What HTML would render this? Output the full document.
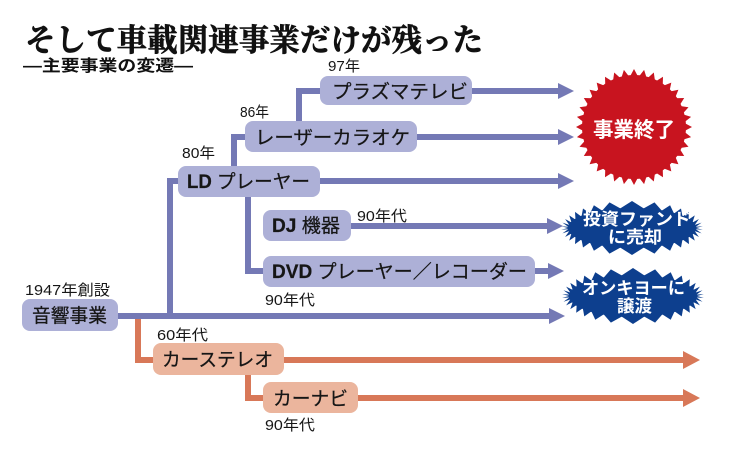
<!DOCTYPE html>
<html><head><meta charset="utf-8"><style>
html,body{margin:0;padding:0;background:#fff;}
svg{display:block;}
.s{font-family:"Liberation Sans","Noto Sans CJK JP",sans-serif;}
</style></head><body>
<svg width="731" height="450" viewBox="0 0 731 450" xmlns="http://www.w3.org/2000/svg">
<rect width="731" height="450" fill="#fff"/>
<!-- Title -->
<text x="25" y="51" font-size="31" font-weight="bold" textLength="458" lengthAdjust="spacingAndGlyphs" font-family="'Liberation Serif','Noto Serif CJK SC',serif" fill="#111" stroke="#111" stroke-width="0.7">そして車載関連事業だけが残った</text>
<text class="s" x="23" y="71" font-size="16" font-weight="bold" textLength="170" lengthAdjust="spacingAndGlyphs" fill="#111">―主要事業の変遷―</text>

<!-- starbursts fallback -->
<circle cx="634" cy="127" r="52" fill="#c8141f"/>
<ellipse cx="632" cy="228" rx="64" ry="20" fill="#0d3f8e"/>
<ellipse cx="633" cy="296" rx="64" ry="21" fill="#0d3f8e"/>
<polygon id="red" fill="#c8141f" points=""/>
<polygon id="b1" fill="#0d3f8e" points=""/>
<polygon id="b2" fill="#0d3f8e" points=""/>

<!-- blue lines -->
<g stroke="#7479b5" stroke-width="6" fill="none">
  <path d="M118 316 H550"/>
  <path d="M170 319 V181 H182"/>
  <path d="M320 181 H560"/>
  <path d="M234 168 V137 H248"/>
  <path d="M417 137 H560"/>
  <path d="M299 123 V91 H324"/>
  <path d="M472 91 H560"/>
  <path d="M248 194 V271 H266"/>
  <path d="M351 226 H549"/>
  <path d="M535 271 H550"/>
</g>
<g fill="#7479b5">
  <polygon points="558,83 574,91 558,99"/>
  <polygon points="558,129 574,137 558,145"/>
  <polygon points="558,173 574,181 558,189"/>
  <polygon points="547,218 563,226 547,234"/>
  <polygon points="548,263 564,271 548,279"/>
  <polygon points="549,308 565,316 549,324"/>
</g>
<!-- orange lines -->
<g stroke="#d87858" stroke-width="6" fill="none">
  <path d="M138 319 V360 H156"/>
  <path d="M284 360 H686"/>
  <path d="M248 373 V398 H266"/>
  <path d="M358 398 H686"/>
</g>
<g fill="#d87858">
  <polygon points="683,351 700,360 683,369"/>
  <polygon points="683,389 700,398 683,407"/>
</g>

<!-- blue nodes -->
<g fill="#adb0d7">
  <rect x="320" y="76" width="152" height="29" rx="8"/>
  <rect x="245" y="121" width="172" height="31" rx="8"/>
  <rect x="178" y="166" width="142" height="31" rx="8"/>
  <rect x="263" y="210" width="88" height="31" rx="8"/>
  <rect x="263" y="256" width="272" height="31" rx="8"/>
  <rect x="22" y="299" width="96" height="32" rx="8"/>
</g>
<g fill="#ebb59d">
  <rect x="153" y="343" width="131" height="32" rx="8"/>
  <rect x="263" y="382" width="95" height="31" rx="8"/>
</g>

<!-- node labels -->
<g class="s" font-size="19" fill="#161616" stroke="#161616" stroke-width="0.25">
  <text x="332" y="98" textLength="136" lengthAdjust="spacingAndGlyphs">プラズマテレビ</text>
  <text x="255" y="144" textLength="155" lengthAdjust="spacingAndGlyphs">レーザーカラオケ</text>
  <text x="187" y="188" textLength="123" lengthAdjust="spacingAndGlyphs" font-weight="bold">LD <tspan font-weight="normal">プレーヤー</tspan></text>
  <text x="272" y="232" textLength="68" lengthAdjust="spacingAndGlyphs" font-weight="bold">DJ <tspan font-weight="normal">機器</tspan></text>
  <text x="272" y="278" textLength="255" lengthAdjust="spacingAndGlyphs" font-weight="bold">DVD <tspan font-weight="normal">プレーヤー／レコーダー</tspan></text>
  <text x="32" y="322" textLength="75" lengthAdjust="spacingAndGlyphs">音響事業</text>
  <text x="162" y="366" textLength="111" lengthAdjust="spacingAndGlyphs">カーステレオ</text>
  <text x="273" y="405" textLength="75" lengthAdjust="spacingAndGlyphs">カーナビ</text>
</g>

<!-- small labels -->
<g class="s" font-size="15" fill="#161616">
  <text x="328" y="71" textLength="32" lengthAdjust="spacingAndGlyphs">97年</text>
  <text x="240" y="117" textLength="29" lengthAdjust="spacingAndGlyphs">86年</text>
  <text x="182" y="158" textLength="33" lengthAdjust="spacingAndGlyphs">80年</text>
  <text x="357" y="221" textLength="50" lengthAdjust="spacingAndGlyphs">90年代</text>
  <text x="265" y="305" textLength="50" lengthAdjust="spacingAndGlyphs">90年代</text>
  <text x="25" y="295" textLength="85" lengthAdjust="spacingAndGlyphs">1947年創設</text>
  <text x="157" y="340" textLength="51" lengthAdjust="spacingAndGlyphs">60年代</text>
  <text x="265" y="430" textLength="50" lengthAdjust="spacingAndGlyphs">90年代</text>
</g>

<!-- starburst texts -->
<g class="s" font-weight="bold" fill="#fff">
  <text x="593" y="137" font-size="21" textLength="82" lengthAdjust="spacingAndGlyphs">事業終了</text>
  <text x="583" y="225" font-size="17" textLength="108" lengthAdjust="spacingAndGlyphs">投資ファンド</text>
  <text x="608" y="243" font-size="17" textLength="54" lengthAdjust="spacingAndGlyphs">に売却</text>
  <text x="582" y="294" font-size="17" textLength="103" lengthAdjust="spacingAndGlyphs">オンキヨーに</text>
  <text x="617" y="312" font-size="17" textLength="35" lengthAdjust="spacingAndGlyphs">譲渡</text>
</g>
</svg>
<script>
function star(cx,cy,rx,ry,d,n){
  var N=3000,arr=[0],acc=0;
  for(var i=1;i<=N;i++){
    var t0=(i-1)/N*2*Math.PI,t1=i/N*2*Math.PI;
    acc+=Math.hypot(rx*(Math.cos(t1)-Math.cos(t0)),ry*(Math.sin(t1)-Math.sin(t0)));
    arr.push(acc);
  }
  var total=acc,out=[],j=0;
  for(var k=0;k<2*n;k++){
    var s=k/(2*n)*total;
    while(j<N-1&&arr[j+1]<s)j++;
    var f=(s-arr[j])/(arr[j+1]-arr[j]);
    var t=(j+f)/N*2*Math.PI - Math.PI/2;
    var x=rx*Math.cos(t),y=ry*Math.sin(t);
    if(k%2==0){out.push((cx+x).toFixed(1)+','+(cy+y).toFixed(1));}
    else{
      var nx=Math.cos(t)/rx,ny=Math.sin(t)/ry,m=Math.hypot(nx,ny);nx/=m;ny/=m;
      out.push((cx+x-d*nx).toFixed(1)+','+(cy+y-d*ny).toFixed(1));
    }
  }
  return out.join(' ');
}
document.getElementById('red').setAttribute('points',star(634,127,58,58,8,36));
document.getElementById('b1').setAttribute('points',star(632,228,71,27,7,34));
document.getElementById('b2').setAttribute('points',star(633,296,71,28,7,34));
</script>
</body></html>
